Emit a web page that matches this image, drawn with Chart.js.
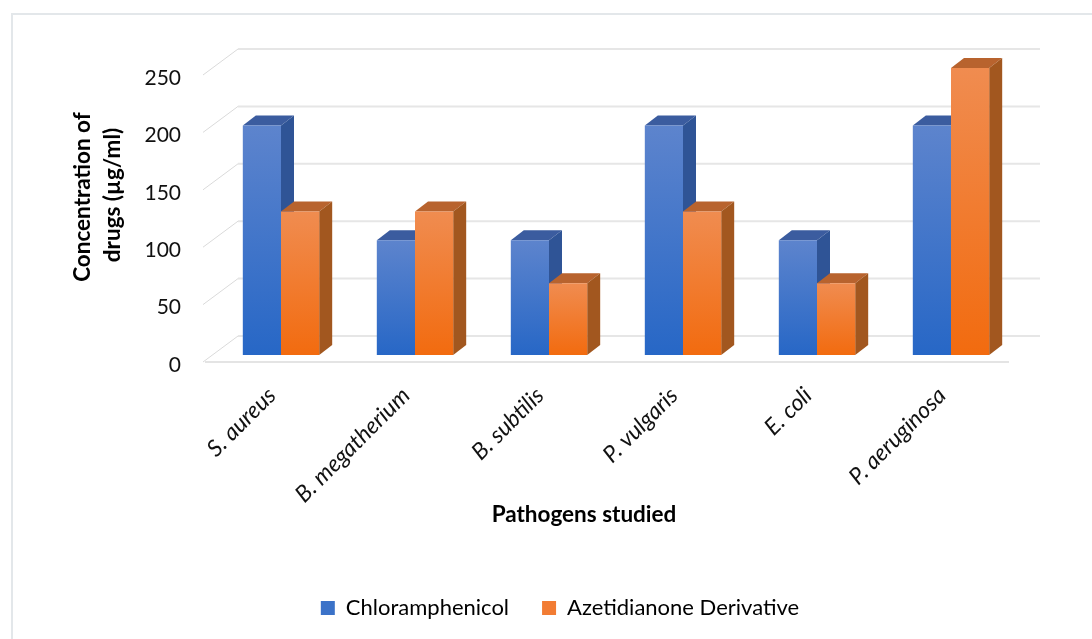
<!DOCTYPE html>
<html>
<head>
<meta charset="utf-8">
<title>Pathogens chart</title>
<script src="https://cdn.jsdelivr.net/npm/chart.js@4/dist/chart.umd.min.js"></script>
<style>
  html, body { margin: 0; padding: 0; background: #fff; }
  #wrap { position: relative; width: 1092px; height: 639px; }
</style>
</head>
<body>
<div id="wrap"><canvas id="chart" width="1092" height="639"></canvas></div>
<script>
const categories = ["S. aureus", "B. megatherium", "B. subtilis", "P. vulgaris", "E. coli", "P. aeruginosa"];
const chloramphenicol = [200, 100, 100, 200, 100, 200];
const azetidianone = [125, 125, 62.5, 125, 62.5, 250];
const seriesNames = ["Chloramphenicol", "Azetidianone Derivative"];
const yTicks = [0, 50, 100, 150, 200, 250];
const yTitleLines = ["Concentration of", "drugs (µg/ml)"];
const xTitle = "Pathogens studied";

const FONT = "Lato, 'Open Sans', sans-serif";
const faces = [
  { top: "#3b5c9f", side: "#2f5496", light: "#5d84cd", dark: "#2767c6", key: "#3b72c8" },
  { top: "#b8632e", side: "#a2571f", light: "#f08c50", dark: "#f26b0f", key: "#f27c33" },
];
// tick labels sit a little below the floor line they belong to
const LIFT = 3;

// front face gradient, lighter at the top of each bar
function faceFill(index) {
  return function (context) {
    const chart = context.chart;
    if (!chart.chartArea || context.raw === undefined) return faces[index].dark;
    const top = chart.scales.y.getPixelForValue(context.raw);
    const g = chart.ctx.createLinearGradient(0, top, 0, chart.scales.y.getPixelForValue(0));
    g.addColorStop(0, faces[index].light);
    g.addColorStop(1, faces[index].dark);
    return g;
  };
}

// fake 3D: frame, back wall, floor, then the bar sides and tops
const depthPlugin = {
  id: "depth",
  afterLayout(chart) {
    // legend sits under the plot but is not centred on it
    chart.legend.left = 28;
    chart.legend.right = 1092;
  },
  beforeDraw(chart) {
    const { ctx, chartArea, scales } = chart;
    ctx.save();
    // only the left and top edges of the frame show
    ctx.strokeStyle = "#e3e7ea";
    ctx.lineWidth = 2;
    ctx.beginPath();
    ctx.moveTo(12, 639);
    ctx.lineTo(12, 14);
    ctx.lineTo(1092, 14);
    ctx.stroke();

    yTicks.forEach((v) => {
      const y = scales.y.getPixelForValue(v) - LIFT;
      ctx.strokeStyle = "#e6e6e6";
      ctx.lineWidth = 2;
      ctx.beginPath();
      ctx.moveTo(chartArea.left + 33, y - 26);
      ctx.lineTo(chartArea.right + 31, y - 26);
      ctx.stroke();
      ctx.strokeStyle = "#dadada";
      ctx.lineWidth = 1;
      ctx.beginPath();
      ctx.moveTo(chartArea.left - 2, y);
      ctx.lineTo(chartArea.left + 33, y - 26);
      ctx.stroke();
    });
    const floorY = scales.y.getPixelForValue(0) - LIFT;
    ctx.strokeStyle = "#e4e4e4";
    ctx.lineWidth = 2;
    ctx.beginPath();
    ctx.moveTo(chartArea.left, floorY);
    ctx.lineTo(chartArea.right, floorY);
    ctx.stroke();

    // axis titles
    ctx.fillStyle = "#000";
    ctx.font = "bold 22.5px " + FONT;
    ctx.textAlign = "center";
    ctx.textBaseline = "middle";
    ctx.fillText(xTitle, 584, 515);
    ctx.translate(98, 196);
    ctx.rotate(-Math.PI / 2);
    ctx.fillText(yTitleLines[0], -1, -15);
    ctx.fillText(yTitleLines[1], 1, 15);
    ctx.restore();
  },
  beforeDatasetsDraw(chart) {
    const ctx = chart.ctx;
    ctx.save();
    ctx.translate(9, -7 - LIFT);
    const dx = 13;
    const dy = -10;
    [0, 1].forEach((i) => {
      chart.getDatasetMeta(i).data.forEach((bar) => {
        const l = bar.x - bar.width / 2;
        const r = bar.x + bar.width / 2;
        ctx.fillStyle = faces[i].top;
        ctx.beginPath();
        ctx.moveTo(l, bar.y);
        ctx.lineTo(l + dx, bar.y + dy);
        ctx.lineTo(r + dx, bar.y + dy);
        ctx.lineTo(r, bar.y);
        ctx.closePath();
        ctx.fill();
        ctx.fillStyle = faces[i].side;
        ctx.beginPath();
        ctx.moveTo(r, bar.y);
        ctx.lineTo(r + dx, bar.y + dy);
        ctx.lineTo(r + dx, bar.base + dy);
        ctx.lineTo(r, bar.base);
        ctx.closePath();
        ctx.fill();
      });
    });
  },
  afterDatasetsDraw(chart) {
    chart.ctx.restore();
  },
};

new Chart(document.getElementById("chart").getContext("2d"), {
  type: "bar",
  data: {
    labels: categories,
    datasets: [
      { label: seriesNames[0], data: chloramphenicol, backgroundColor: faceFill(0) },
      { label: seriesNames[1], data: azetidianone, backgroundColor: faceFill(1) },
    ],
  },
  plugins: [depthPlugin],
  options: {
    responsive: false,
    animation: false,
    categoryPercentage: 0.57,
    barPercentage: 1,
    layout: { padding: { left: 20, right: 83, top: 78, bottom: 10 } },
    plugins: {
      tooltip: { enabled: false },
      legend: {
        position: "bottom",
        labels: {
          boxWidth: 14,
          boxHeight: 14,
          padding: 33,
          color: "#111",
          font: { family: FONT, size: 22 },
          generateLabels() {
            return seriesNames.map((name, i) => ({
              text: name,
              fillStyle: faces[i].key,
              strokeStyle: faces[i].key,
              lineWidth: 0,
              datasetIndex: i,
            }));
          },
        },
      },
    },
    scales: {
      x: {
        grid: { display: false, drawTicks: false },
        border: { display: false },
        afterFit(scale) { scale.height = 199; },
        ticks: {
          autoSkip: false,
          minRotation: 45,
          maxRotation: 45,
          padding: 17,
          color: "#111",
          font: { family: FONT, size: 23, style: "italic" },
        },
      },
      y: {
        min: 0,
        max: 250,
        grid: { display: false, drawTicks: false },
        border: { display: false },
        afterFit(scale) { scale.width = 185; },
        ticks: {
          stepSize: 50,
          padding: 24,
          color: "#111",
          font: { family: FONT, size: 21 },
        },
      },
    },
  },
});
</script>
</body>
</html>
